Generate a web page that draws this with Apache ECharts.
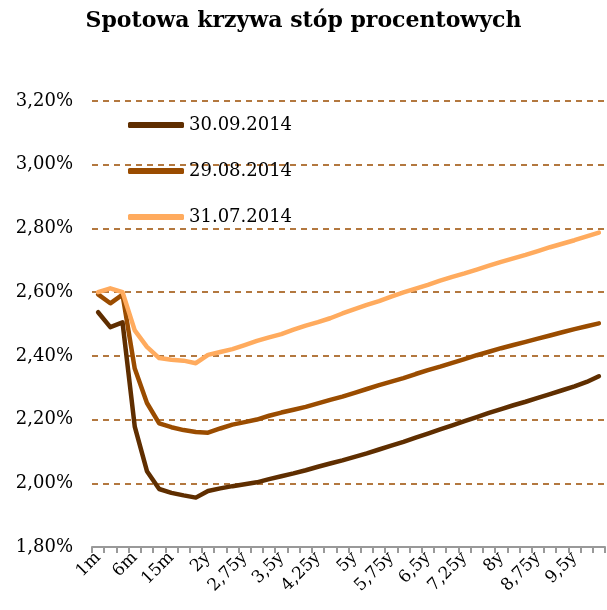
<!DOCTYPE html>
<html><head><meta charset="utf-8">
<script src="https://cdn.jsdelivr.net/npm/echarts@6/dist/echarts.min.js"></script>
<style>html,body{margin:0;padding:0;background:#fff}#c{width:607px;height:610px}</style>
</head><body><div id="c"></div>
<script>
const categories = ['1m','2m','3m','6m','9m','12m','15m','18m','21m','2y',
 '2,25y','2,5y','2,75y','3y','3,25y','3,5y','3,75y','4y','4,25y','4,5y','4,75y','5y',
 '5,25y','5,5y','5,75y','6y','6,25y','6,5y','6,75y','7y','7,25y','7,5y','7,75y','8y',
 '8,25y','8,5y','8,75y','9y','9,25y','9,5y','9,75y','10y'];
const s20140930 = [2.537,2.490,2.505,2.178,2.038,1.982,1.970,1.962,1.955,1.976,
 1.984,1.991,1.997,2.003,2.013,2.022,2.031,2.041,2.052,2.062,2.072,2.083,
 2.094,2.106,2.118,2.130,2.143,2.156,2.169,2.182,2.195,2.208,2.221,2.233,
 2.245,2.256,2.268,2.280,2.292,2.304,2.318,2.336];
const s20140829 = [2.593,2.565,2.592,2.360,2.252,2.188,2.176,2.167,2.161,2.159,
 2.172,2.184,2.192,2.200,2.212,2.222,2.231,2.240,2.251,2.262,2.272,2.284,
 2.296,2.308,2.319,2.330,2.343,2.355,2.366,2.378,2.390,2.402,2.413,2.424,
 2.434,2.444,2.454,2.464,2.474,2.484,2.493,2.502];
const s20140731 = [2.600,2.612,2.600,2.480,2.428,2.393,2.388,2.385,2.377,2.403,
 2.412,2.421,2.434,2.447,2.458,2.468,2.482,2.495,2.506,2.518,2.533,2.547,
 2.560,2.572,2.586,2.599,2.611,2.623,2.636,2.648,2.659,2.671,2.683,2.695,
 2.706,2.717,2.729,2.741,2.752,2.763,2.775,2.787];
const seriesNames = ['30.09.2014','29.08.2014','31.07.2014'];
const seriesColors = ['#5f2e00','#9a4c00','#ffab5e'];
const seriesData = [s20140930, s20140829, s20140731];

const FONT = '"DejaVu Serif", "Liberation Serif", serif';
const chart = echarts.init(document.getElementById('c'), null, {renderer:'canvas'});
chart.setOption({
  animation:false,
  title:{text:'Spotowa krzywa stóp procentowych', left:'center', top:5,
    textStyle:{fontFamily:FONT, fontWeight:'bold', fontSize:22, color:'#000'}},
  legend:{orient:'vertical', left:123, top:110, itemWidth:56, itemHeight:6, itemGap:26,
    icon:'roundRect',
    textStyle:{fontFamily:FONT, fontSize:18, color:'#000', lineHeight:20},
    data:seriesNames},
  grid:{left:92, right:2, top:101, bottom:63, containLabel:false},
  xAxis:{type:'category', data:categories, boundaryGap:true,
    axisLine:{lineStyle:{color:'#999', width:2}},
    axisTick:{show:true, interval:0, length:6, lineStyle:{color:'#999', width:2}},
    axisLabel:{interval:2, rotate:45, margin:8, fontFamily:FONT, fontSize:17, color:'#000'},
    splitLine:{show:false}},
  yAxis:{type:'value', min:1.8, max:3.2, interval:0.2,
    axisLine:{show:false}, axisTick:{show:false},
    axisLabel:{margin:19, fontFamily:FONT, fontSize:18, color:'#000',
      formatter:v=>v.toFixed(2).replace('.',',')+'%'},
    splitLine:{lineStyle:{color:'#9a4c00', width:1.5, type:[6,5]}}},
  series: seriesNames.map((n,i)=>({name:n, type:'line', data:seriesData[i],
    showSymbol:false, symbol:'none', smooth:false,
    lineStyle:{color:seriesColors[i], width:4.5, cap:'round', join:'round'},
    itemStyle:{color:seriesColors[i]}}))
});
</script></body></html>
